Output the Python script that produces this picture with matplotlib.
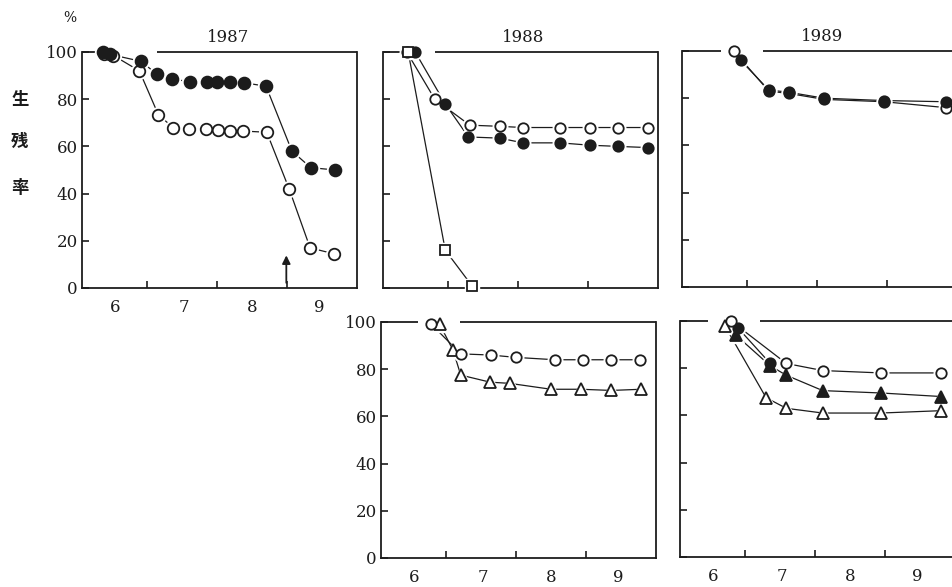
import matplotlib
matplotlib.use("Agg")
import matplotlib.pyplot as plt

# ---------------- data (x in months: 7.0 = 1 July) ----------------
years = ["1987", "1988", "1989"]
month_labels = ["6", "7", "8", "9"]
month_label_pos = [6.55, 7.52, 8.5, 9.46]
month_ticks = [7, 8, 9]
y_ticks = [0, 20, 40, 60, 80, 100]
y_ticklabels = ["0", "20", "40", "60", "80", "100"]

# 1987 (top left)
x87_filled = [6.37, 6.47, 6.92, 7.14, 7.35, 7.61, 7.85, 8.00, 8.19, 8.38, 8.70, 9.07, 9.34, 9.69]
y87_filled = [100, 99, 96, 90.5, 88.5, 87.5, 87.5, 87.5, 87.5, 87, 85.5, 58, 51, 50]
x87_open = [6.38, 6.52, 6.89, 7.16, 7.37, 7.60, 7.84, 8.01, 8.19, 8.37, 8.71, 9.03, 9.33, 9.67]
y87_open = [99, 98.5, 92, 73.5, 68, 67.5, 67.5, 67, 66.5, 66.5, 66, 42, 17, 14.5]
arrow87_x = 8.99
arrow87_y = (1, 15)

# 1988 (top middle)
x88_open = [6.41, 6.81, 7.31, 7.74, 8.07, 8.60, 9.03, 9.43, 9.86]
y88_open = [100, 80, 69, 68.5, 68, 68, 68, 68, 68]
x88_filled = [6.53, 6.96, 7.29, 7.74, 8.07, 8.60, 9.03, 9.43, 9.86]
y88_filled = [100, 78, 64, 63.5, 61.5, 61.5, 60.5, 60, 59.5]
x88_square = [6.43, 6.96, 7.34]
y88_square = [100, 16, 1]

# 1989 (top right)
x89_open = [6.81, 7.31, 7.60, 8.10, 8.96, 9.84]
y89_open = [100, 83, 82, 79.5, 78.5, 76]
x89_filled = [6.91, 7.31, 7.60, 8.10, 8.96, 9.84]
y89_filled = [96, 83.5, 82.5, 80, 79, 78.5]

# 1988 (bottom middle)
x88b_open = [6.79, 7.21, 7.64, 8.00, 8.56, 8.96, 9.36, 9.77]
y88b_open = [99, 86.5, 86, 85, 84, 84, 84, 84]
x88b_tri = [6.91, 7.10, 7.21, 7.63, 7.91, 8.50, 8.93, 9.36, 9.79]
y88b_tri = [99, 88, 77.5, 74.5, 74, 71.5, 71.5, 71, 71.5]

# 1989 (bottom right)
x89b_otri = [6.71, 7.30, 7.59, 8.11, 8.94, 9.80]
y89b_otri = [98, 67.5, 63, 61, 61, 62]
x89b_ftri = [6.87, 7.36, 7.59, 8.11, 8.94, 9.80]
y89b_ftri = [94, 81, 77, 70.5, 69.5, 68]
x89b_filled = [6.90, 7.36]
y89b_filled = [97, 82]
x89b_open = [6.80, 7.59, 8.11, 8.94, 9.80]
y89b_open = [100, 82, 79, 78, 78]

# ---------------- style ----------------
INK = "#1c1c1c"
NUMFONT = "DejaVu Serif"
W, H = 952, 587
XLIM = (6.07, 10.0)

fig = plt.figure(figsize=(W / 100, H / 100), dpi=100)
fig.patch.set_facecolor("white")


def add_ax(left, top, width=275, height=236):
    return fig.add_axes([left / W, 1 - (top + height) / H, width / W, height / H])


def style(ax, ylabels, xlabels, top_segments, right=True):
    ax.set_xlim(*XLIM)
    ax.set_ylim(0, 100)
    ax.set_xticks(month_ticks)
    ax.set_xticks(month_label_pos, minor=True)
    ax.tick_params(axis="x", which="major", direction="in", length=5, width=1.2,
                   labelbottom=False, color=INK)
    ax.tick_params(axis="x", which="minor", length=0, pad=8)
    if xlabels:
        ax.set_xticklabels(month_labels, minor=True, fontfamily=NUMFONT,
                           fontsize=12, color=INK)
    else:
        ax.set_xticklabels([], minor=True)
    ax.set_yticks(y_ticks)
    ax.tick_params(axis="y", direction="in", length=5, width=1.2, pad=3, color=INK)
    if ylabels:
        ax.set_yticklabels(y_ticklabels, fontfamily=NUMFONT, fontsize=12, color=INK)
    else:
        ax.set_yticklabels([])
    for s in ["left", "bottom", "right"]:
        ax.spines[s].set_linewidth(1.3)
        ax.spines[s].set_color(INK)
    ax.spines["right"].set_visible(right)
    ax.spines["top"].set_visible(False)
    for seg in top_segments:
        ax.plot(seg, [1, 1], transform=ax.get_xaxis_transform(), color=INK,
                lw=1.3, clip_on=False, zorder=2.5, solid_capstyle="butt")


def series(ax, x, y, marker, filled, ms=7.5, z=0):
    ax.plot(x, y, "-", color=INK, lw=0.9, zorder=2, clip_on=False)
    ax.plot(x, y, ls="none", marker=marker, ms=ms + 3, mfc="white", mec="white",
            zorder=3, clip_on=False)
    ax.plot(x, y, ls="none", marker=marker, ms=ms, mfc=INK if filled else "white",
            mec=INK, mew=1.3, zorder=4 + z, clip_on=False)


# ---- 1987 ----
ax1 = add_ax(82, 52)
style(ax1, True, True, [(XLIM[0], 6.30), (7.14, XLIM[1])])
series(ax1, x87_open, y87_open, "o", False, ms=8.3, z=0)
series(ax1, x87_filled, y87_filled, "o", True, ms=8.5, z=1)
ax1.annotate("", xy=(arrow87_x, arrow87_y[1]), xytext=(arrow87_x, arrow87_y[0]),
             arrowprops=dict(arrowstyle="-|>", color=INK, lw=1.3, mutation_scale=12))
ax1.set_title(years[0], fontfamily=NUMFONT, fontsize=12, pad=7, x=0.53, color=INK)

# ---- 1988 top ----
ax2 = add_ax(383, 52)
style(ax2, False, False, [(XLIM[0], 6.33), (6.81, XLIM[1])])
series(ax2, x88_open, y88_open, "o", False, z=0)
series(ax2, x88_filled, y88_filled, "o", True, z=1)
series(ax2, x88_square, y88_square, "s", False, ms=7.5, z=2)
ax2.set_title(years[1], fontfamily=NUMFONT, fontsize=12, pad=7, x=0.51, color=INK)

# ---- 1989 top ----
ax3 = add_ax(682, 51)
style(ax3, False, False, [(XLIM[0], 6.63), (7.23, XLIM[1])], right=False)
series(ax3, x89_open, y89_open, "o", False, z=0)
series(ax3, x89_filled, y89_filled, "o", True, z=1)
ax3.set_title(years[2], fontfamily=NUMFONT, fontsize=12, pad=7, x=0.51, color=INK)

# ---- 1988 bottom ----
ax4 = add_ax(381, 322)
style(ax4, True, True, [(XLIM[0], 6.60), (7.20, XLIM[1])])
series(ax4, x88b_tri, y88b_tri, "^", False, ms=8.5, z=0)
series(ax4, x88b_open, y88b_open, "o", False, z=1)

# ---- 1989 bottom ----
ax5 = add_ax(680, 321)
style(ax5, False, True, [(XLIM[0], 6.47), (7.21, XLIM[1])], right=False)
series(ax5, x89b_otri, y89b_otri, "^", False, ms=8.5, z=0)
series(ax5, x89b_ftri, y89b_ftri, "^", True, ms=8.5, z=1)
series(ax5, x89b_filled, y89b_filled, "o", True, z=2)
series(ax5, x89b_open, y89b_open, "o", False, z=3)

# ---- side labels ----
fig.text(70 / W, 1 - 18 / H, "%", fontfamily=NUMFONT, fontsize=10, color=INK,
         ha="center", va="center")
for ch, yy in zip(["生", "残", "率"], [100, 142, 188]):
    fig.text(20 / W, 1 - yy / H, ch, fontfamily=["Noto Sans CJK JP", "DejaVu Sans"],
             fontsize=12.5, fontweight="bold", color=INK, ha="center", va="center")

fig.savefig("out.png", dpi=100, facecolor="white")
